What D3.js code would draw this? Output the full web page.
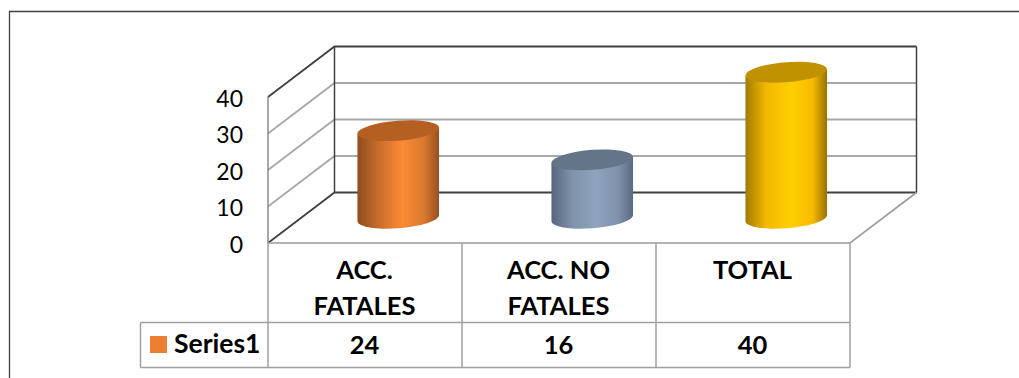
<!DOCTYPE html>
<html>
<head>
<meta charset="utf-8">
<script src="https://cdn.jsdelivr.net/npm/d3@7"></script>
<style>
  html, body { margin: 0; padding: 0; background: #fff; }
  svg { display: block; }
  text { font-family: Lato, "Open Sans", sans-serif; fill: #000; }
</style>
</head>
<body>
<svg id="chart" width="1019" height="378"></svg>
<script>
// Accident counts by category
const categories = ["ACC. FATALES", "ACC. NO FATALES", "TOTAL"];
const categoryLines = [["ACC.", "FATALES"], ["ACC. NO", "FATALES"], ["TOTAL"]];
const seriesName = "Series1";
const seriesValues = [24, 16, 40];
const yTicks = [0, 10, 20, 30, 40];
const shaftColors = [
  ["#8f4d1d", "#c56c2a", "#fd8a36", "#d8782e", "#96501f"],
  ["#56667b", "#7f92ab", "#8fa3bf", "#7f92ab", "#5a6a7f"],
  ["#a37b00", "#f2b700", "#ffcf00", "#f8bc00", "#967200"]
];
const capColors = ["#b65f23", "#647589", "#c09200"];
const legendColor = "#ed7d31";

const svg = d3.select("#chart");

// Layout of the 3D box: the front plane plus an offset towards the back wall
const frontLeft = 268, frontRight = 850, floorY = 243, wallHeight = 146;
const depthX = 66.5, depthY = -50.5;

const x = d3.scaleBand().domain(categories).range([frontLeft, frontRight]);
const y = d3.scaleLinear().domain([0, 40]).range([floorY, floorY - wallHeight]);

const lineGray = "#a8a8a8", lineDark = "#404040";

// Outer frame: only the top and left edges are drawn
svg.append("path")
  .attr("d", "M9.5,378V11.5H1019")
  .attr("fill", "none").attr("stroke", "#404040").attr("stroke-width", 1.3);

// Gridlines wrap from the left wall onto the back wall
const wall = svg.append("g").attr("fill", "none");
yTicks.forEach(t => {
  const isEdge = t === 0 || t === 40;
  wall.append("path")
    .attr("d", d3.line()([
      [frontLeft, y(t)],
      [frontLeft + depthX, y(t) + depthY],
      [frontRight + depthX, y(t) + depthY]
    ]))
    .attr("stroke", isEdge ? lineDark : lineGray)
    .attr("stroke-width", 1.8);
});
wall.append("line")
  .attr("x1", frontLeft + depthX).attr("x2", frontLeft + depthX)
  .attr("y1", y(0) + depthY).attr("y2", y(40) + depthY)
  .attr("stroke", lineDark).attr("stroke-width", 1.5);
wall.append("line")
  .attr("x1", frontRight + depthX).attr("x2", frontRight + depthX)
  .attr("y1", y(0) + depthY).attr("y2", y(40) + depthY)
  .attr("stroke", lineDark).attr("stroke-width", 1.5);
wall.append("line")
  .attr("x1", frontLeft).attr("x2", frontLeft)
  .attr("y1", y(0)).attr("y2", y(40))
  .attr("stroke", "#7a7a7a").attr("stroke-width", 1.3);
wall.append("path")
  .attr("d", d3.line()([
    [frontLeft, y(0)],
    [frontRight, y(0)],
    [frontRight + depthX, y(0) + depthY]
  ]))
  .attr("stroke", "#9c9c9c").attr("stroke-width", 1.6);

// Value axis labels
const axisG = svg.append("g")
  .attr("transform", `translate(${frontLeft - 25},0.8)`)
  .call(d3.axisLeft(y).tickValues(yTicks).tickSize(0).tickPadding(0));
axisG.select(".domain").remove();
axisG.selectAll("text")
  .style("font-size", "23px")
  .attr("dy", "0.36em");

// Gradients for the cylinder shafts
const defs = svg.append("defs");
shaftColors.forEach((stops, i) => {
  const g = defs.append("linearGradient")
    .attr("id", `shaft-${i}`)
    .attr("x1", 0).attr("x2", 1).attr("y1", 0).attr("y2", 0);
  [0, 0.25, 0.55, 0.82, 1].forEach((o, j) =>
    g.append("stop").attr("offset", o).attr("stop-color", stops[j]));
});

// Cylinders stand halfway into the depth of the box
const radiusX = 40.8, radiusY = 10;
const bars = svg.append("g");
categories.forEach((c, i) => {
  const cx = x(c) + x.bandwidth() / 2 + depthX / 2;
  const cy = y(0) + depthY / 2 + 0.5;
  const h = y(0) - y(seriesValues[i]);
  const g = bars.append("g")
    .attr("transform", `translate(${cx},${cy}) skewY(-4.2)`);
  g.append("path")
    .attr("d", `M${-radiusX},${-h}L${radiusX},${-h}L${radiusX},0` +
               `A${radiusX},${radiusY} 0 0 1 ${-radiusX},0Z`)
    .attr("fill", `url(#shaft-${i})`);
  g.append("ellipse")
    .attr("cx", 0).attr("cy", -h)
    .attr("rx", radiusX).attr("ry", radiusY)
    .attr("fill", capColors[i]);
});

// Data table below the plot
const tableLine = "#a0a0a0";
const rowTop = 322.5, rowBottom = 367.5, legendLeft = 140.5;
const table = svg.append("g").attr("stroke", tableLine).attr("stroke-width", 1.5).attr("fill", "none");
table.append("path").attr("d", `M${legendLeft},${rowTop}H${frontRight}`);
table.append("path").attr("d", `M${legendLeft},${rowBottom}H${frontRight}`);
table.append("path").attr("d", `M${legendLeft},${rowTop}V${rowBottom}`);
[...categories.map(c => x(c)), frontRight].forEach(px => {
  table.append("path").attr("d", `M${px},${y(0)}V${rowBottom}`);
});

const cellFont = "25.5px";
categories.forEach((c, i) => {
  const cx = x(c) + x.bandwidth() / 2 - 0.5;
  categoryLines[i].forEach((ln, k) => {
    svg.append("text")
      .attr("x", cx).attr("y", 278.5 + k * 36.5)
      .attr("text-anchor", "middle")
      .attr("font-weight", 700).attr("font-size", cellFont)
      .text(ln);
  });
  svg.append("text")
    .attr("x", cx).attr("y", 353.5)
    .attr("text-anchor", "middle")
    .attr("font-weight", 700).attr("font-size", cellFont)
    .text(seriesValues[i]);
});

// Legend key inside the table
svg.append("rect")
  .attr("x", 150).attr("y", 336).attr("width", 17).attr("height", 17)
  .attr("fill", legendColor);
svg.append("text")
  .attr("x", 174).attr("y", 353)
  .attr("font-weight", 700).attr("font-size", "26.5px")
  .text(seriesName);
</script>
</body>
</html>
